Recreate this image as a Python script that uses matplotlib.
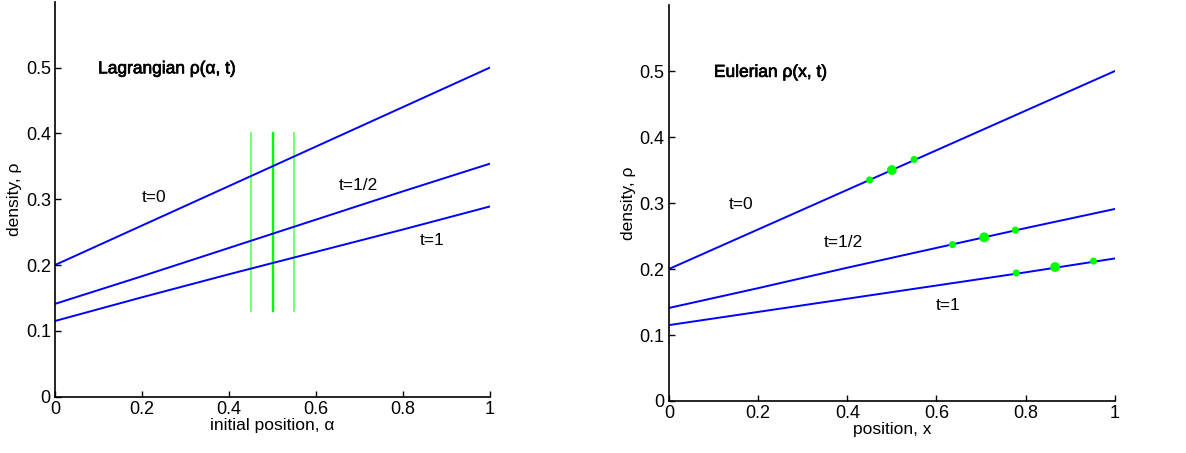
import matplotlib
matplotlib.use("Agg")
import matplotlib.pyplot as plt
import matplotlib.patheffects as pe

plt.rcParams['font.family'] = ['Liberation Sans', 'DejaVu Sans']

# Density curves (position, density)
pos = [0.0, 0.2, 0.4, 0.6, 0.8, 1.0]
lag_t0 = [0.200, 0.260, 0.320, 0.380, 0.440, 0.500]
lag_t12 = [0.141, 0.183, 0.226, 0.269, 0.312, 0.354]
lag_t1 = [0.115, 0.151, 0.186, 0.220, 0.254, 0.289]

eul_t0 = [0.200, 0.260, 0.320, 0.380, 0.440, 0.500]
eul_t12 = [0.141, 0.171, 0.202, 0.232, 0.262, 0.291]
eul_t1 = [0.115, 0.135, 0.155, 0.175, 0.195, 0.216]

# Tracked particles: initial positions and where they end up
alpha_marks = [0.45, 0.50, 0.55]
bar_low, bar_high = 0.13, 0.40
x_t0 = [0.45, 0.50, 0.55]
x_t12 = [0.636, 0.707, 0.777]
x_t1 = [0.779, 0.866, 0.952]
rho_t0 = [0.335, 0.350, 0.366]
rho_t12 = [0.237, 0.248, 0.259]
rho_t1 = [0.194, 0.203, 0.212]

fig = plt.figure(figsize=(11.86, 4.53), dpi=100)
ax1 = fig.add_axes([0.0464, 0.1243, 0.3668, 0.872])
ax2 = fig.add_axes([0.564, 0.1148, 0.376, 0.874])

blue = '#0000ff'
green = '#00ff00'
light_green = '#66ff66'


def style(ax, xlabel):
    ax.set_xlim(0, 1)
    ax.set_ylim(0, 0.6)
    ax.set_xticks([0, 0.2, 0.4, 0.6, 0.8, 1])
    ax.set_xticklabels(['0', '0.2', '0.4', '0.6', '0.8', '1'])
    ax.set_yticks([0, 0.1, 0.2, 0.3, 0.4, 0.5])
    ax.set_yticklabels(['0', '0.1', '0.2', '0.3', '0.4', '0.5'])
    ax.spines['top'].set_visible(False)
    ax.spines['right'].set_visible(False)
    for s in ('left', 'bottom'):
        ax.spines[s].set_linewidth(1.2)
    ax.tick_params(direction='in', length=4, width=1, labelsize=13, pad=3)
    ax.set_xlabel(xlabel, fontsize=12.5, labelpad=0)
    ax.set_ylabel('density, \u03c1', fontsize=12.5, labelpad=3)


# Lagrangian panel
for a, c, lw in zip(alpha_marks, [light_green, green, light_green], [1.3, 1.7, 1.3]):
    ax1.plot([a, a], [bar_low, bar_high], color=c, lw=lw, zorder=1)
for y in (lag_t0, lag_t12, lag_t1):
    ax1.plot(pos, y, color=blue, lw=1.4, zorder=2)
style(ax1, 'initial position, \u03b1')
bold = [pe.withStroke(linewidth=0.5, foreground='black')]
ax1.text(0.099, 0.498, 'Lagrangian \u03c1(\u03b1, t)', fontsize=12.5, va='center',
         path_effects=bold)
ax1.text(0.228, 0.302, 't=0', fontsize=12.5, ha='center', va='center')
ax1.text(0.697, 0.321, 't=1/2', fontsize=12.5, ha='center', va='center')
ax1.text(0.866, 0.238, 't=1', fontsize=12.5, ha='center', va='center')

# Eulerian panel
for y in (eul_t0, eul_t12, eul_t1):
    ax2.plot(pos, y, color=blue, lw=1.4, zorder=2)
for xs, rs in ((x_t0, rho_t0), (x_t12, rho_t12), (x_t1, rho_t1)):
    ax2.scatter(xs, rs, s=[26, 50, 26], color=green, zorder=3, linewidths=0)
style(ax2, 'position, x')
ax2.text(0.101, 0.498, 'Eulerian \u03c1(x, t)', fontsize=12.5, va='center',
         path_effects=bold)
ax2.text(0.162, 0.298, 't=0', fontsize=12.5, ha='center', va='center')
ax2.text(0.392, 0.240, 't=1/2', fontsize=12.5, ha='center', va='center')
ax2.text(0.627, 0.145, 't=1', fontsize=12.5, ha='center', va='center')

fig.savefig('out.png', dpi=100)
